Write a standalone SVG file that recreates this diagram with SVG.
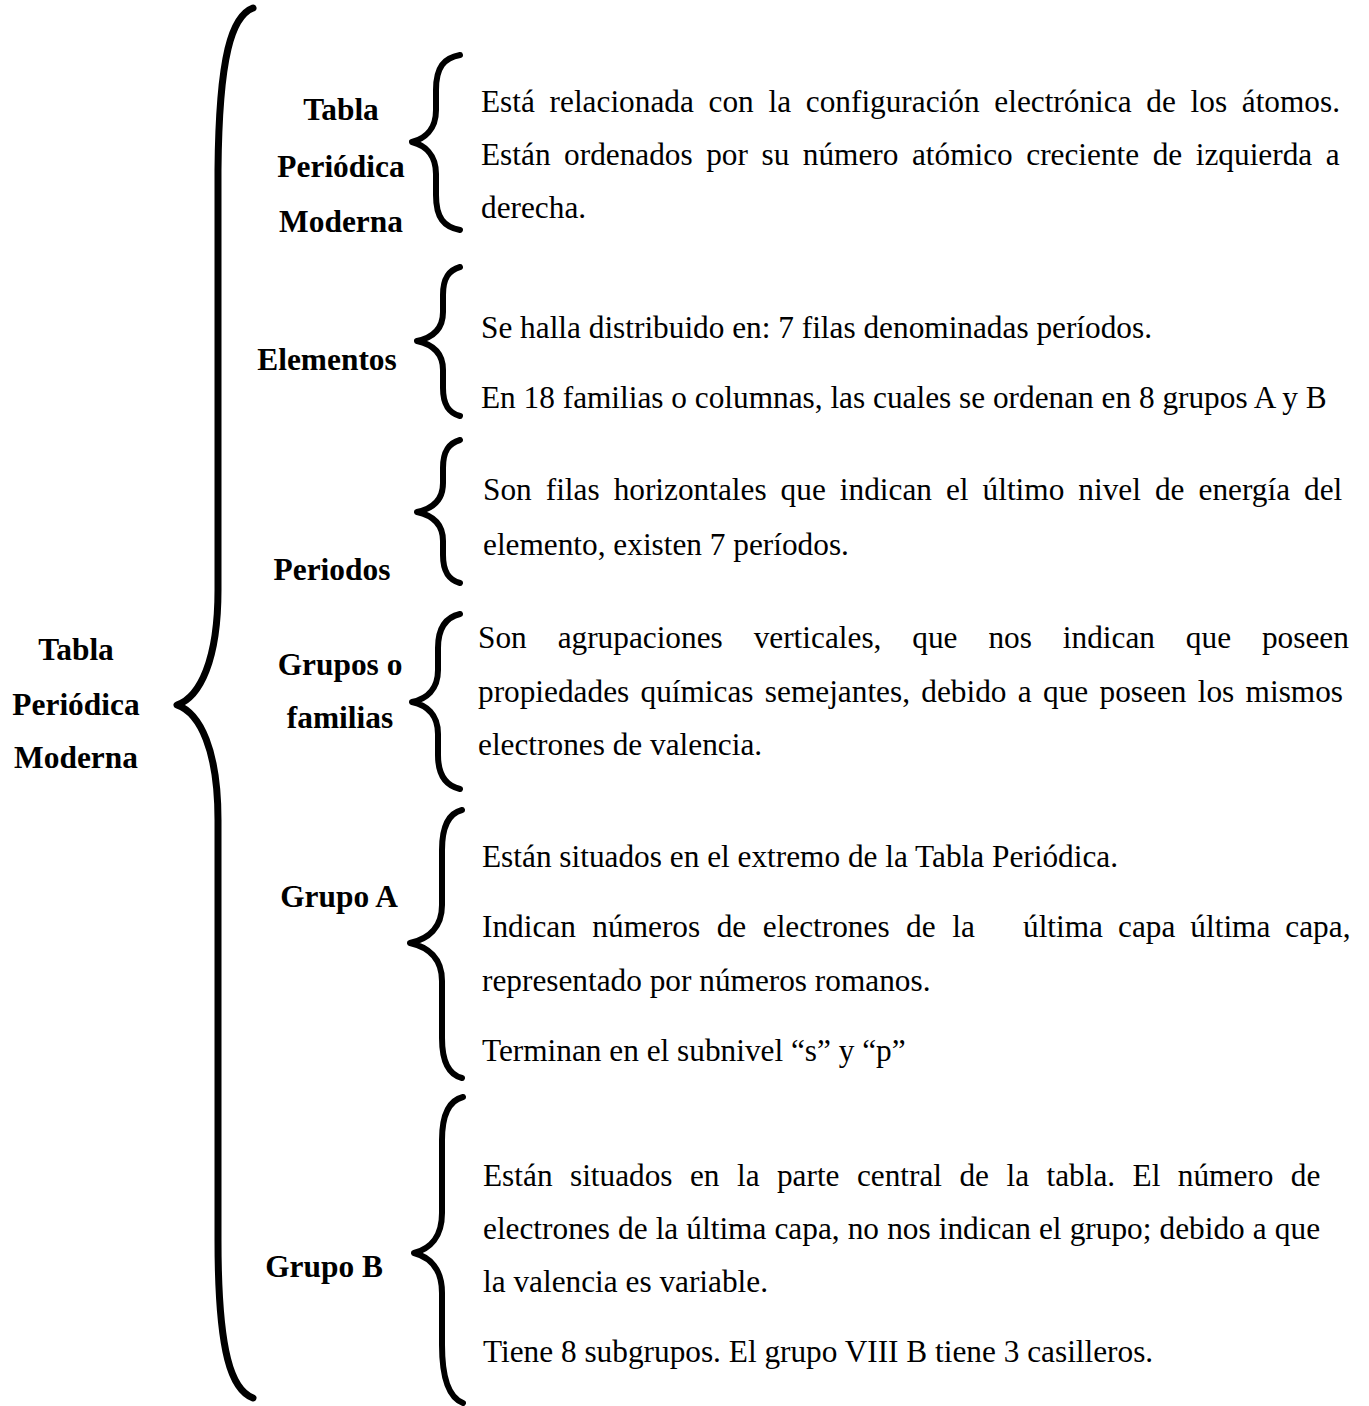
<svg xmlns="http://www.w3.org/2000/svg" width="1369" height="1406" viewBox="0 0 1369 1406">
<style>
.bg{fill:#fff}
.br{fill:none;stroke:#000;stroke-width:6;stroke-linecap:round;stroke-linejoin:round}
.big{stroke-width:7}
.lbl{font-family:"Liberation Serif","Times New Roman",serif;font-size:31.4px;font-weight:bold;fill:#000;text-anchor:middle}
.tx{font-family:"Liberation Serif","Times New Roman",serif;font-size:31.3px;fill:#000}
</style>
<rect class="bg" width="1369" height="1406"/>
<g id="connectors">
<path class="br big" d="M253,8 C232,16 219,55 218,170 L218,590 C218,660 200,697 177,705 C200,713 218,750 218,820 L218,1240 C218,1355 232,1390 253,1398"/>
<path class="br" d="M460,55 C444,58 436,67 436,90 L436,110 C436,130 424,139 412,142 C424,145 436,154 436,174 L436,195 C436,218 444,227 460,230"/>
<path class="br" d="M460,267 C449,270 443,278 443,295 L443,312 C443,330 431,338 417,341 C431,344 443,352 443,370 L443,388 C443,405 449,413 460,416"/>
<path class="br" d="M460,440 C449,443 443,451 443,468 L443,483 C443,501 431,509 417,512 C431,515 443,523 443,541 L443,555 C443,572 449,580 460,583"/>
<path class="br" d="M460,614 C447,617 438,626 438,648 L438,670 C438,690 426,699 412,702 C426,705 438,714 438,734 L438,755 C438,777 447,786 460,789"/>
<path class="br" d="M462,810 C450,813 442,824 442,850 L442,905 C442,928 428,939 410,943 C428,947 442,958 442,981 L442,1038 C442,1064 450,1075 462,1078"/>
<path class="br" d="M463,1097 C451,1100 442,1112 442,1140 L442,1213 C442,1237 430,1249 414,1253 C430,1257 442,1269 442,1293 L442,1345 C442,1380 450,1398 463,1403"/>
</g>
<g id="root">
<text class="lbl" x="76" y="660">Tabla</text>
<text class="lbl" x="76" y="715">Periódica</text>
<text class="lbl" x="76" y="768">Moderna</text>
</g>
<g id="tabla-periodica-moderna">
<text class="lbl" x="341" y="120">Tabla</text>
<text class="lbl" x="341" y="177">Periódica</text>
<text class="lbl" x="341" y="232">Moderna</text>
<text class="tx" x="481" y="112" word-spacing="6.9">Está relacionada con la configuración electrónica de los átomos.</text>
<text class="tx" x="481" y="165" word-spacing="5.7">Están ordenados por su número atómico creciente de izquierda a</text>
<text class="tx" x="481" y="218">derecha.</text>
</g>
<g id="elementos">
<text class="lbl" x="327" y="370">Elementos</text>
<text class="tx" x="481" y="338">Se halla distribuido en: 7 filas denominadas períodos.</text>
<text class="tx" x="481" y="408">En 18 familias o columnas, las cuales se ordenan en 8 grupos A y B</text>
</g>
<g id="periodos">
<text class="lbl" x="332" y="580">Periodos</text>
<text class="tx" x="483" y="500" word-spacing="6.2">Son filas horizontales que indican el último nivel de energía del</text>
<text class="tx" x="483" y="555">elemento, existen 7 períodos.</text>
</g>
<g id="grupos-familias">
<text class="lbl" x="340" y="675">Grupos o</text>
<text class="lbl" x="340" y="728">familias</text>
<text class="tx" x="478" y="648" word-spacing="23.1">Son agrupaciones verticales, que nos indican que poseen</text>
<text class="tx" x="478" y="702" word-spacing="3.5">propiedades químicas semejantes, debido a que poseen los mismos</text>
<text class="tx" x="478" y="755">electrones de valencia.</text>
</g>
<g id="grupo-a">
<text class="lbl" x="339" y="907">Grupo A</text>
<text class="tx" x="482" y="867">Están situados en el extremo de la Tabla Periódica.</text>
<text class="tx" y="937"><tspan x="482" word-spacing="8.7">Indican números de electrones de la</tspan><tspan x="1023" word-spacing="7.2">última capa última capa,</tspan></text>
<text class="tx" x="482" y="991">representado por números romanos.</text>
<text class="tx" x="482" y="1061">Terminan en el subnivel “s” y “p”</text>
</g>
<g id="grupo-b">
<text class="lbl" x="324" y="1277">Grupo B</text>
<text class="tx" x="483" y="1186" word-spacing="9.6">Están situados en la parte central de la tabla. El número de</text>
<text class="tx" x="483" y="1239" word-spacing="0.3">electrones de la última capa, no nos indican el grupo; debido a que</text>
<text class="tx" x="483" y="1292">la valencia es variable.</text>
<text class="tx" x="483" y="1362">Tiene 8 subgrupos. El grupo VIII B tiene 3 casilleros.</text>
</g>
</svg>
